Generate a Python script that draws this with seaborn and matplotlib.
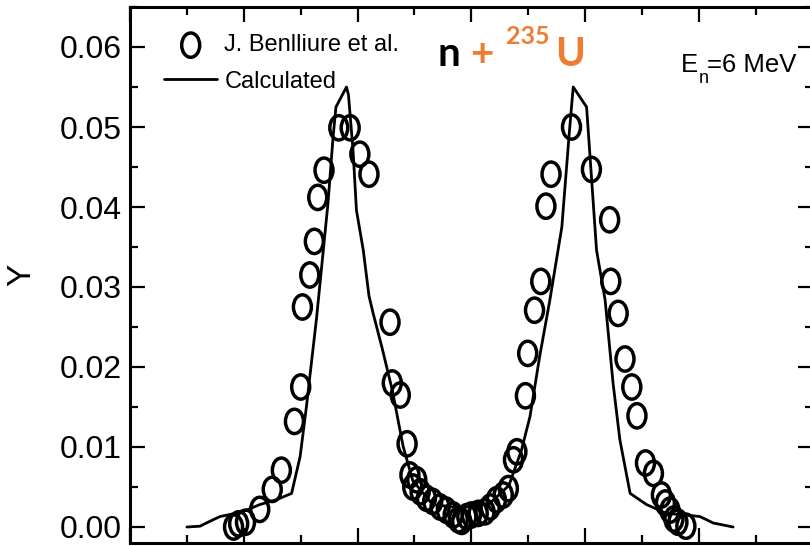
import matplotlib
matplotlib.use("Agg")
import matplotlib.pyplot as plt
import seaborn as sns
import pandas as pd
import numpy as np
from matplotlib.path import Path
from matplotlib.transforms import Affine2D
from matplotlib.ticker import MultipleLocator, FormatStrFormatter

# experimental yields (J. Benlliure et al.)
exp_A = [78.2, 79.1, 80.3, 82.8, 85.0, 86.6, 88.9, 90.0, 90.3, 91.6, 92.4, 93.0,
         94.1, 96.7, 98.7, 100.4, 102.0, 105.7, 106.1, 107.5, 108.7,
         109.2, 109.7, 110.4, 111.0, 112.1, 113.2, 114.5, 115.6, 116.8, 117.7,
         118.3, 119.2, 120.0, 121.2, 122.4, 123.3, 124.4, 125.6, 126.5, 127.4,
         128.0, 129.5, 129.9, 131.1, 132.2, 133.1, 134.0, 137.6, 141.1, 144.3,
         144.5, 145.8, 147.0, 148.2, 149.1, 150.6, 152.0, 153.4, 154.1, 154.9,
         155.6, 156.3, 157.7]
exp_Y = [0.0000, 0.0004, 0.0006, 0.0022, 0.0047, 0.0071, 0.0132, 0.0175, 0.0275,
         0.0315, 0.0357, 0.0412, 0.0446, 0.0499, 0.0499, 0.0466, 0.0441, 0.0256,
         0.0180, 0.0165, 0.0104,
         0.0065, 0.0050, 0.0059, 0.0044, 0.0036, 0.0032, 0.0025, 0.0021, 0.0015,
         0.0009, 0.0007, 0.0013, 0.0015, 0.0017, 0.0019, 0.0025, 0.0034, 0.0040,
         0.0048, 0.0084, 0.0094, 0.0164, 0.0217, 0.0271, 0.0307, 0.0401, 0.0441,
         0.0500, 0.0447, 0.0384, 0.0307, 0.0267, 0.0210, 0.0175, 0.0139, 0.0080,
         0.0067, 0.0040, 0.0030, 0.0021, 0.0010, 0.0006, 0.0001]

# calculated yields
calc_A = [70.0, 72.3, 74.0, 75.8, 79.8, 82.8, 85.7, 88.4, 89.9, 91.0, 92.8, 94.8,
          95.7, 96.2, 98.05, 98.4, 99.2, 99.8, 101.0, 102.0, 102.7, 104.3, 106.1,
          108.0, 109.7, 113.2, 117.0, 119.7, 123.3, 126.6, 128.8, 130.3, 132.0,
          133.8, 135.9, 137.2, 137.9, 140.25, 141.1, 142.0, 143.5, 144.9, 146.1,
          147.9, 150.8, 154.3, 157.8, 160.2, 162.5, 166.0]
calc_Y = [0.0000, 0.0001, 0.0007, 0.0013, 0.0019, 0.0028, 0.0034, 0.0042, 0.0088,
          0.0150, 0.0262, 0.0405, 0.0488, 0.0525, 0.0550, 0.0540, 0.0471, 0.0396,
          0.0346, 0.0289, 0.0268, 0.0224, 0.0171, 0.0101, 0.0058, 0.0028, 0.0025,
          0.0025, 0.0030, 0.0052, 0.0096, 0.0138, 0.0213, 0.0284, 0.0375, 0.0492,
          0.0550, 0.0525, 0.0438, 0.0346, 0.0284, 0.0180, 0.0109, 0.0042, 0.0028,
          0.0017, 0.0015, 0.0013, 0.0005, 0.0000]

df_exp = pd.DataFrame({"A": exp_A, "Y": exp_Y})
df_calc = pd.DataFrame({"A": calc_A, "Y": calc_Y})

sns.set_style("ticks")
plt.rcParams["font.family"] = ["Liberation Sans", "DejaVu Sans"]
plt.rcParams["text.color"] = "black"
plt.rcParams["axes.labelcolor"] = "black"
plt.rcParams["xtick.color"] = "black"
plt.rcParams["ytick.color"] = "black"
plt.rcParams["axes.edgecolor"] = "black"

fig = plt.figure(figsize=(8.1, 5.46), dpi=100)
ax = fig.add_axes([130 / 810, 3 / 546, 682.75 / 810, 536 / 546])

# oval marker (original figure is stretched vertically)
oval = Path.unit_circle().transformed(Affine2D().scale(0.74, 1.0))

sns.lineplot(data=df_calc, x="A", y="Y", ax=ax, color="black", lw=2.0,
             sort=False, label="Calculated")
sns.scatterplot(data=df_exp, x="A", y="Y", ax=ax, marker=oval, s=17.5 ** 2,
                facecolor="none", edgecolor="black", linewidth=2.5,
                label="J. Benlliure et al.", zorder=3)

ax.set_xlim(60, 180)
ax.set_ylim(-0.002, 0.065)
ax.xaxis.set_major_locator(MultipleLocator(20))
ax.xaxis.set_minor_locator(MultipleLocator(10))
ax.yaxis.set_major_locator(MultipleLocator(0.01))
ax.yaxis.set_minor_locator(MultipleLocator(0.005))
ax.yaxis.set_major_formatter(FormatStrFormatter("%.2f"))
ax.tick_params(which="both", direction="in", top=True, right=True, width=1.6,
               labelbottom=False, labelsize=23, pad=6)
ax.tick_params(which="major", length=11)
ax.tick_params(which="minor", length=6)
for sp in ax.spines.values():
    sp.set_linewidth(2.2)
ax.set_xlabel("")
ax.set_ylabel("Y", fontsize=24, labelpad=16)

h, l = ax.get_legend_handles_labels()
ax.legend([h[1], h[0]], [l[1], l[0]], loc="upper left",
          bbox_to_anchor=(0.05, 0.949), frameon=False, fontsize=17,
          handlelength=2.25, handletextpad=0.3, labelspacing=0.6,
          borderpad=0, borderaxespad=0)

# title pieces
fig.text(437 / 810, 1 - 66 / 546, "n", fontsize=29, fontweight="bold",
         family="Lato", color="black", va="baseline")
fig.text(470 / 810, 1 - 66 / 546, "+", fontsize=29, fontweight="bold",
         family="Lato", color="#ED7D31", va="baseline")
fig.text(506 / 810, 1 - 44 / 546, "235", fontsize=18, fontweight="bold",
         family="Lato", color="#ED7D31", va="baseline")
fig.text(555 / 810, 1 - 66 / 546, "U", fontsize=29, fontweight="bold",
         family="Lato", color="#ED7D31", va="baseline")

fig.text(681 / 810, 1 - 72 / 546, "E", fontsize=18.5, va="baseline")
fig.text(699 / 810, 1 - 83 / 546, "n", fontsize=13, va="baseline")
fig.text(707 / 810, 1 - 72 / 546, "=6 MeV", fontsize=18.5, va="baseline")

fig.savefig("out.png", dpi=100)
